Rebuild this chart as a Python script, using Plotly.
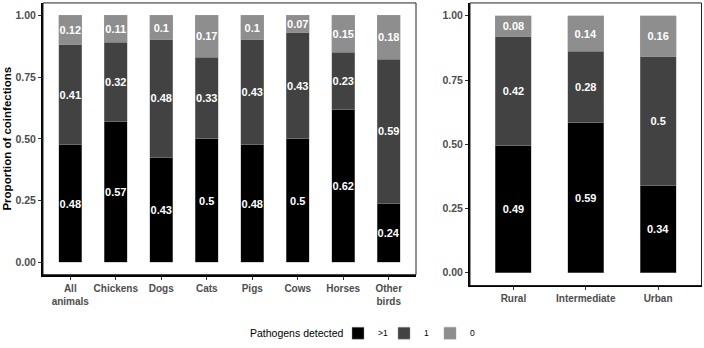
import plotly.graph_objects as go

# Left panel: animal categories
animals = ["All<br>animals", "Chickens", "Dogs", "Cats", "Pigs", "Cows", "Horses", "Other<br>birds"]
a_gt1 = [0.48, 0.57, 0.43, 0.5, 0.48, 0.5, 0.62, 0.24]
a_one = [0.41, 0.32, 0.48, 0.33, 0.43, 0.43, 0.23, 0.59]
a_zero = [0.12, 0.11, 0.1, 0.17, 0.1, 0.07, 0.15, 0.18]

# Right panel: settings
areas = ["Rural", "Intermediate", "Urban"]
r_gt1 = [0.49, 0.59, 0.34]
r_one = [0.42, 0.28, 0.5]
r_zero = [0.08, 0.14, 0.16]

series_names = [">1", "1", "0"]
colors = ["#000000", "#424242", "#8e8e8e"]

yticks = [0, 0.25, 0.5, 0.75, 1.0]
yticklabels = ["0.00", "0.25", "0.50", "0.75", "1.00"]

fig = go.Figure()

def add_bars(cats, vals_list, xa, ya, show):
    for name, vals, col in zip(series_names, vals_list, colors):
        fig.add_trace(go.Bar(
            x=cats, y=vals, name=name, xaxis=xa, yaxis=ya,
            marker=dict(color=col, line=dict(color="rgba(160,160,160,0.7)", width=0.6)),
            width=0.5,
            text=[str(v) for v in vals],
            textposition="inside", insidetextanchor="middle",
            textangle=0, constraintext="none",
            textfont=dict(family="Liberation Sans, Arial", size=11, color="white", weight="bold"),
            showlegend=show, hoverinfo="skip",
        ))

add_bars(animals, [a_gt1, a_one, a_zero], "x", "y", True)
add_bars(areas, [r_gt1, r_one, r_zero], "x2", "y2", False)

W, H = 704, 348
tickfont = dict(family="Liberation Sans, Arial", size=10.5, color="#4d4d4d", weight="bold")
common_y = dict(tickvals=yticks, ticktext=yticklabels, showgrid=False, zeroline=False,
                ticks="outside", ticklen=3, tickwidth=1, tickcolor="#333333",
                tickfont=tickfont, showline=True, linecolor="black", linewidth=2)
common_x = dict(showgrid=False, zeroline=False, ticks="outside", ticklen=3, tickwidth=1,
                tickcolor="#333333", tickfont=dict(tickfont, size=10),
                showline=True, linecolor="black", linewidth=2, type="category")

fig.update_layout(
    width=W, height=H,
    margin=dict(l=0, r=0, t=0, b=0),
    paper_bgcolor="white", plot_bgcolor="white",
    barmode="stack", barnorm="fraction",
    xaxis=dict(common_x, domain=[43 / W, 416 / W], range=[-0.6, 7.6], anchor="y"),
    yaxis=dict(common_y, domain=[1 - 279.5 / H, 1 - 3 / H], range=[-0.05, 1.05], anchor="x"),
    xaxis2=dict(common_x, domain=[470 / W, 701.5 / W], range=[-0.6, 2.6], anchor="y2"),
    yaxis2=dict(common_y, domain=[1 - 290.5 / H, 1 - 3 / H], range=[-0.05, 1.05], anchor="x2"),
    legend=dict(
        orientation="h", x=338 / W, xanchor="left", y=1 - 339 / H, yanchor="middle",
        traceorder="normal",
        font=dict(family="Liberation Sans, Arial", size=8.5, color="black"),
        itemwidth=30, entrywidth=1, entrywidthmode="pixels",
    ),
    showlegend=True,
    shapes=[
        dict(type="rect", xref="x domain", yref="y domain", x0=0, x1=1, y0=0, y1=1,
             line=dict(color="#222222", width=1), fillcolor="rgba(0,0,0,0)"),
        dict(type="rect", xref="x2 domain", yref="y2 domain", x0=0, x1=1, y0=0, y1=1,
             line=dict(color="#222222", width=1), fillcolor="rgba(0,0,0,0)"),
    ],
    annotations=[
        dict(text="Pathogens detected".replace("", "") , xref="paper", yref="paper",
             x=346 / W, y=1 - 339 / H, showarrow=False,
             xanchor="right", yanchor="middle",
             font=dict(family="Liberation Sans, Arial", size=10.5, color="black")),
        dict(text="Proportion of coinfections", xref="paper", yref="paper",
             x=7 / W, y=1 - 141 / H, textangle=-90, showarrow=False,
             xanchor="center", yanchor="middle",
             font=dict(family="Liberation Sans, Arial", size=11.5, color="black", weight="bold")),
    ],
)

fig.write_html("out.html")
